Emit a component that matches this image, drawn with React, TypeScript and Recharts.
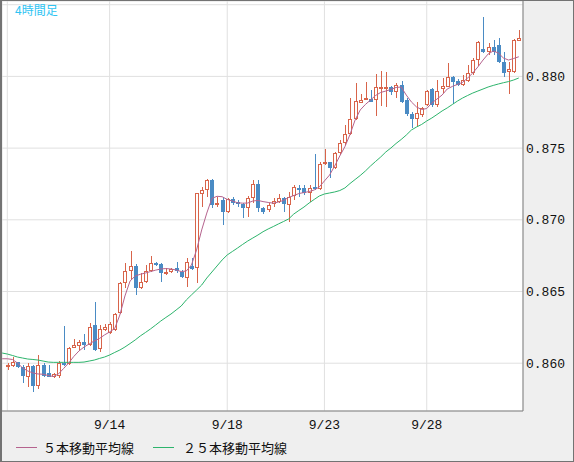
import React from 'react';
import { ComposedChart, Bar, Line, XAxis, YAxis, CartesianGrid, Legend } from 'recharts';

// 4-hour candles, index 0 only carries the moving averages
const opens = [null,
  0.85971, 0.85983, 0.86006, 0.85976, 0.85906, 0.85980, 0.85843, 0.85987, 0.85934, 0.85906,
  0.85913, 0.86003, 0.85994, 0.86108, 0.86122, 0.86146, 0.86127, 0.86266, 0.86097, 0.86232,
  0.86209, 0.86232, 0.86348, 0.86557, 0.86645, 0.86680, 0.86522, 0.86564, 0.86645, 0.86697,
  0.86692, 0.86627, 0.86634, 0.86666, 0.86638, 0.86592, 0.86678, 0.86662, 0.87178, 0.87208,
  0.87278, 0.87108, 0.87138, 0.87056, 0.87145, 0.87122, 0.87108, 0.87080, 0.87154, 0.87250,
  0.87080, 0.87068, 0.87108, 0.87126, 0.87150, 0.87103, 0.87164, 0.87224, 0.87224, 0.87185,
  0.87231, 0.87213, 0.87387, 0.87401, 0.87359, 0.87464, 0.87533, 0.87596, 0.87701, 0.87817,
  0.87835, 0.87842, 0.87835, 0.87917, 0.87917, 0.87924, 0.87888, 0.87940, 0.87832, 0.87738,
  0.87706, 0.87731, 0.87801, 0.87910, 0.87801, 0.87910, 0.87928, 0.87994, 0.87970, 0.87940,
  0.87970, 0.88022, 0.88114, 0.88191, 0.88172, 0.88203, 0.88219, 0.88103, 0.88033, 0.88033,
  0.88249];

const highs = [null,
  0.86003, 0.86045, 0.86010, 0.85987, 0.85999, 0.85987, 0.86057, 0.86003, 0.85987, 0.85934,
  0.86017, 0.86259, 0.86115, 0.86167, 0.86162, 0.86204, 0.86278, 0.86429, 0.86266, 0.86271,
  0.86289, 0.86348, 0.86568, 0.86697, 0.86782, 0.86690, 0.86631, 0.86685, 0.86748, 0.86704,
  0.86697, 0.86662, 0.86662, 0.86708, 0.86650, 0.86732, 0.86732, 0.87189, 0.87231, 0.87285,
  0.87285, 0.87161, 0.87161, 0.87150, 0.87161, 0.87138, 0.87119, 0.87168, 0.87278, 0.87278,
  0.87091, 0.87115, 0.87150, 0.87178, 0.87161, 0.87196, 0.87243, 0.87243, 0.87243, 0.87243,
  0.87459, 0.87405, 0.87494, 0.87405, 0.87475, 0.87556, 0.87661, 0.87847, 0.87956, 0.87875,
  0.87959, 0.87905, 0.88015, 0.88038, 0.88033, 0.87933, 0.87956, 0.87968, 0.87851, 0.87754,
  0.87824, 0.87790, 0.87905, 0.87919, 0.87975, 0.87987, 0.88091, 0.88003, 0.87980, 0.88010,
  0.88080, 0.88128, 0.88247, 0.88412, 0.88235, 0.88254, 0.88270, 0.88172, 0.88103, 0.88259,
  0.88324];

const lows = [null,
  0.85950, 0.85976, 0.85964, 0.85864, 0.85836, 0.85801, 0.85818, 0.85906, 0.85902, 0.85895,
  0.85895, 0.85980, 0.85987, 0.86104, 0.86092, 0.86092, 0.86120, 0.86087, 0.86080, 0.86225,
  0.86202, 0.86227, 0.86343, 0.86522, 0.86580, 0.86476, 0.86517, 0.86557, 0.86638, 0.86680,
  0.86568, 0.86615, 0.86627, 0.86627, 0.86592, 0.86533, 0.86650, 0.86561, 0.87091, 0.87161,
  0.87080, 0.87091, 0.86964, 0.87045, 0.87103, 0.87091, 0.87015, 0.87022, 0.87115, 0.87056,
  0.87038, 0.87056, 0.87091, 0.87115, 0.87056, 0.86987, 0.87138, 0.87161, 0.87173, 0.87126,
  0.87208, 0.87208, 0.87382, 0.87289, 0.87352, 0.87452, 0.87522, 0.87591, 0.87696, 0.87812,
  0.87832, 0.87820, 0.87726, 0.87794, 0.87789, 0.87870, 0.87847, 0.87814, 0.87724, 0.87640,
  0.87654, 0.87714, 0.87794, 0.87787, 0.87787, 0.87882, 0.87924, 0.87808, 0.87933, 0.87933,
  0.87963, 0.88010, 0.88073, 0.88165, 0.88149, 0.88149, 0.88091, 0.87998, 0.87877, 0.88026,
  0.88249];

const closes = [null,
  0.85987, 0.86006, 0.85971, 0.85913, 0.85980, 0.85843, 0.85987, 0.85913, 0.85906, 0.85925,
  0.85999, 0.85985, 0.86104, 0.86127, 0.86146, 0.86127, 0.86255, 0.86092, 0.86236, 0.86255,
  0.86271, 0.86341, 0.86561, 0.86645, 0.86680, 0.86522, 0.86568, 0.86645, 0.86697, 0.86685,
  0.86627, 0.86638, 0.86655, 0.86645, 0.86599, 0.86706, 0.86657, 0.87185, 0.87208, 0.87278,
  0.87103, 0.87119, 0.87056, 0.87143, 0.87115, 0.87108, 0.87080, 0.87154, 0.87248, 0.87080,
  0.87052, 0.87103, 0.87131, 0.87150, 0.87108, 0.87161, 0.87231, 0.87215, 0.87185, 0.87224,
  0.87218, 0.87387, 0.87401, 0.87359, 0.87464, 0.87533, 0.87596, 0.87701, 0.87828, 0.87835,
  0.87847, 0.87824, 0.87924, 0.87924, 0.87924, 0.87893, 0.87940, 0.87824, 0.87741, 0.87700,
  0.87748, 0.87780, 0.87898, 0.87801, 0.87898, 0.87933, 0.87994, 0.87963, 0.87940, 0.87975,
  0.88026, 0.88114, 0.88240, 0.88168, 0.88203, 0.88172, 0.88103, 0.88022, 0.88050, 0.88254,
  0.88266];

const ma5 = [
  0.86031, 0.86031, 0.86026, 0.86001, 0.85967, 0.85946, 0.85932, 0.85925, 0.85923, 0.85914,
  0.85907, 0.85925, 0.85963, 0.86001, 0.86047, 0.86085, 0.86113, 0.86134, 0.86155, 0.86172,
  0.86197, 0.86218, 0.86242, 0.86336, 0.86469, 0.86573, 0.86608, 0.86620, 0.86629, 0.86639,
  0.86649, 0.86657, 0.86660, 0.86657, 0.86650, 0.86639, 0.86643, 0.86685, 0.86789, 0.86929,
  0.87047, 0.87149, 0.87164, 0.87161, 0.87142, 0.87131, 0.87119, 0.87116, 0.87117, 0.87131,
  0.87135, 0.87127, 0.87121, 0.87116, 0.87124, 0.87135, 0.87156, 0.87169, 0.87183, 0.87190,
  0.87197, 0.87208, 0.87229, 0.87271, 0.87312, 0.87375, 0.87445, 0.87510, 0.87595, 0.87696,
  0.87766, 0.87804, 0.87835, 0.87867, 0.87888, 0.87898, 0.87909, 0.87923, 0.87926, 0.87870,
  0.87822, 0.87787, 0.87769, 0.87776, 0.87815, 0.87842, 0.87870, 0.87912, 0.87930, 0.87944,
  0.87958, 0.87989, 0.88024, 0.88066, 0.88114, 0.88156, 0.88177, 0.88163, 0.88128, 0.88114,
  0.88125, 0.88137];

const ma25 = [
  0.86071, 0.86064, 0.86054, 0.86043, 0.86036, 0.86029, 0.86026, 0.86022, 0.86015, 0.86008,
  0.86006, 0.86006, 0.86006, 0.86006, 0.86006, 0.86006, 0.86008, 0.86015, 0.86022, 0.86033,
  0.86043, 0.86057, 0.86075, 0.86092, 0.86113, 0.86137, 0.86162, 0.86190, 0.86214, 0.86239,
  0.86266, 0.86294, 0.86319, 0.86343, 0.86371, 0.86399, 0.86441, 0.86476, 0.86510, 0.86545,
  0.86594, 0.86636, 0.86678, 0.86720, 0.86755, 0.86779, 0.86803, 0.86828, 0.86852, 0.86873,
  0.86894, 0.86917, 0.86936, 0.86953, 0.86971, 0.86988, 0.87006, 0.87040, 0.87065, 0.87089,
  0.87117, 0.87142, 0.87166, 0.87180, 0.87187, 0.87194, 0.87204, 0.87222, 0.87253, 0.87281,
  0.87309, 0.87340, 0.87375, 0.87407, 0.87438, 0.87473, 0.87501, 0.87532, 0.87560, 0.87591,
  0.87626, 0.87647, 0.87665, 0.87689, 0.87710, 0.87734, 0.87759, 0.87780, 0.87804, 0.87828,
  0.87849, 0.87867, 0.87884, 0.87898, 0.87912, 0.87926, 0.87937, 0.87947, 0.87956, 0.87964,
  0.87975, 0.87989];

const dayTicks = [1, 21, 44, 63, 83];
const dayLabels = ['', '9/14', '9/18', '9/23', '9/28'];
const priceTicks = [0.86, 0.865, 0.87, 0.875, 0.88, 0.885];
const seriesNames = ['５本移動平均線', '２５本移動平均線'];
const title = '4時間足';

const UP = '#d8644a';
const DOWN = '#4a8bc4';
const MA5_COLOR = '#b5638e';
const MA25_COLOR = '#2db46c';
const MONO = '"Liberation Mono", "DejaVu Sans Mono", monospace';
const JP = '"Noto Sans CJK JP", sans-serif';

const rows = opens.map((o, i) => ({
  i,
  range: o == null ? null : [lows[i], highs[i]],
  open: o,
  high: highs[i],
  low: lows[i],
  close: closes[i],
  ma5: ma5[i],
  ma25: ma25[i],
}));

function Candle(props: any) {
  const { x, y, width, height, payload } = props;
  if (!payload || payload.open == null || !isFinite(y) || !isFinite(height)) return null;
  const { open, close, high, low } = payload;
  const top = Math.min(y, y + height);
  const span = Math.abs(height);
  const toY = (v: number) => (high === low ? top : top + ((high - v) / (high - low)) * span);
  const c = Math.round(x + width / 2);
  const yo = Math.round(toY(open));
  const yc = Math.round(toY(close));
  const yh = Math.round(top);
  const yl = Math.round(top + span);
  let bt = Math.min(yo, yc);
  let bb = Math.max(yo, yc);
  if (bb - bt < 2) bb = bt + 2;
  if (close >= open) {
    return (
      <g shapeRendering="crispEdges">
        {bt > yh && <rect x={c} y={yh} width={1} height={bt - yh} fill={UP} />}
        {yl > bb && <rect x={c} y={bb} width={1} height={yl - bb} fill={UP} />}
        <rect x={c - 1.5} y={bt + 0.5} width={3} height={bb - bt - 1} fill="#fff" stroke={UP} strokeWidth={1} />
      </g>
    );
  }
  return (
    <g shapeRendering="crispEdges">
      <rect x={c} y={yh} width={1} height={Math.max(yl - yh, 1)} fill={DOWN} />
      <rect x={c - 2} y={bt} width={4} height={bb - bt} fill={DOWN} />
    </g>
  );
}

function LegendBox() {
  return (
    <svg width={574} height={24} style={{ display: 'block' }}>
      <line x1={16} x2={37} y1={11.5} y2={11.5} stroke={MA5_COLOR} strokeWidth={1} />
      <text x={43} y={16.5} fontSize={13} fontFamily={JP} fill="#111">{seriesNames[0]}</text>
      <line x1={153} x2={174} y1={11.5} y2={11.5} stroke={MA25_COLOR} strokeWidth={1} />
      <text x={183} y={16.5} fontSize={13} fontFamily={JP} fill="#111">{seriesNames[1]}</text>
    </svg>
  );
}

export default function App() {
  return (
    <div style={{ position: 'relative', width: 574, height: 462 }}>
      <style>{'body{margin:0}'}</style>
      <ComposedChart
        width={574}
        height={462}
        data={rows}
        margin={{ top: 1, right: 1, bottom: 1, left: 2 }}
        style={{ background: '#efefef' }}
      >
        <CartesianGrid stroke="#e0e0e0" fill="#ffffff" />
        <XAxis
          dataKey="i"
          type="number"
          domain={[-0.036, 101.82]}
          allowDataOverflow
          ticks={dayTicks}
          interval={0}
          tickFormatter={(v: number) => dayLabels[dayTicks.indexOf(v)] ?? ''}
          height={50}
          tickLine={false}
          tickSize={0}
          tickMargin={9}
          axisLine={{ stroke: '#808080' }}
          tick={{ fontSize: 13, fontFamily: MONO, fill: '#111' }}
        />
        <YAxis
          orientation="right"
          type="number"
          domain={[0.856667, 0.885258]}
          allowDataOverflow
          ticks={priceTicks}
          interval={0}
          tickFormatter={(v: number) => (v > 0.8849 ? '' : v.toFixed(3))}
          width={50}
          tickLine={false}
          tickSize={0}
          tickMargin={3}
          axisLine={{ stroke: '#808080' }}
          tick={{ fontSize: 13, fontFamily: MONO, fill: '#111' }}
        />
        <Bar dataKey="range" barSize={4} shape={(p: any) => <Candle {...p} />} isAnimationActive={false} />
        <Line dataKey="ma25" type="linear" stroke={MA25_COLOR} strokeWidth={1} dot={false} activeDot={false} isAnimationActive={false} />
        <Line dataKey="ma5" type="linear" stroke={MA5_COLOR} strokeWidth={1} dot={false} activeDot={false} isAnimationActive={false} />
        <Legend
          layout="horizontal"
          verticalAlign="middle"
          align="center"
          wrapperStyle={{ position: 'absolute', left: 0, top: 436, width: 574, height: 24 }}
          content={() => <LegendBox />}
        />
      </ComposedChart>
      <svg width={80} height={20} style={{ position: 'absolute', left: 0, top: 0 }}>
        <text x={15} y={15} fontSize={12} fontFamily={JP} fill="#2ec4f3">{title}</text>
      </svg>
      <div
        style={{
          position: 'absolute', left: 0, top: 0, width: 574, height: 462, boxSizing: 'border-box',
          borderTop: '1px solid #737373', borderRight: '1px solid #737373',
          borderBottom: '1px solid #737373', borderLeft: '2px solid #737373', pointerEvents: 'none',
        }}
      />
    </div>
  );
}
